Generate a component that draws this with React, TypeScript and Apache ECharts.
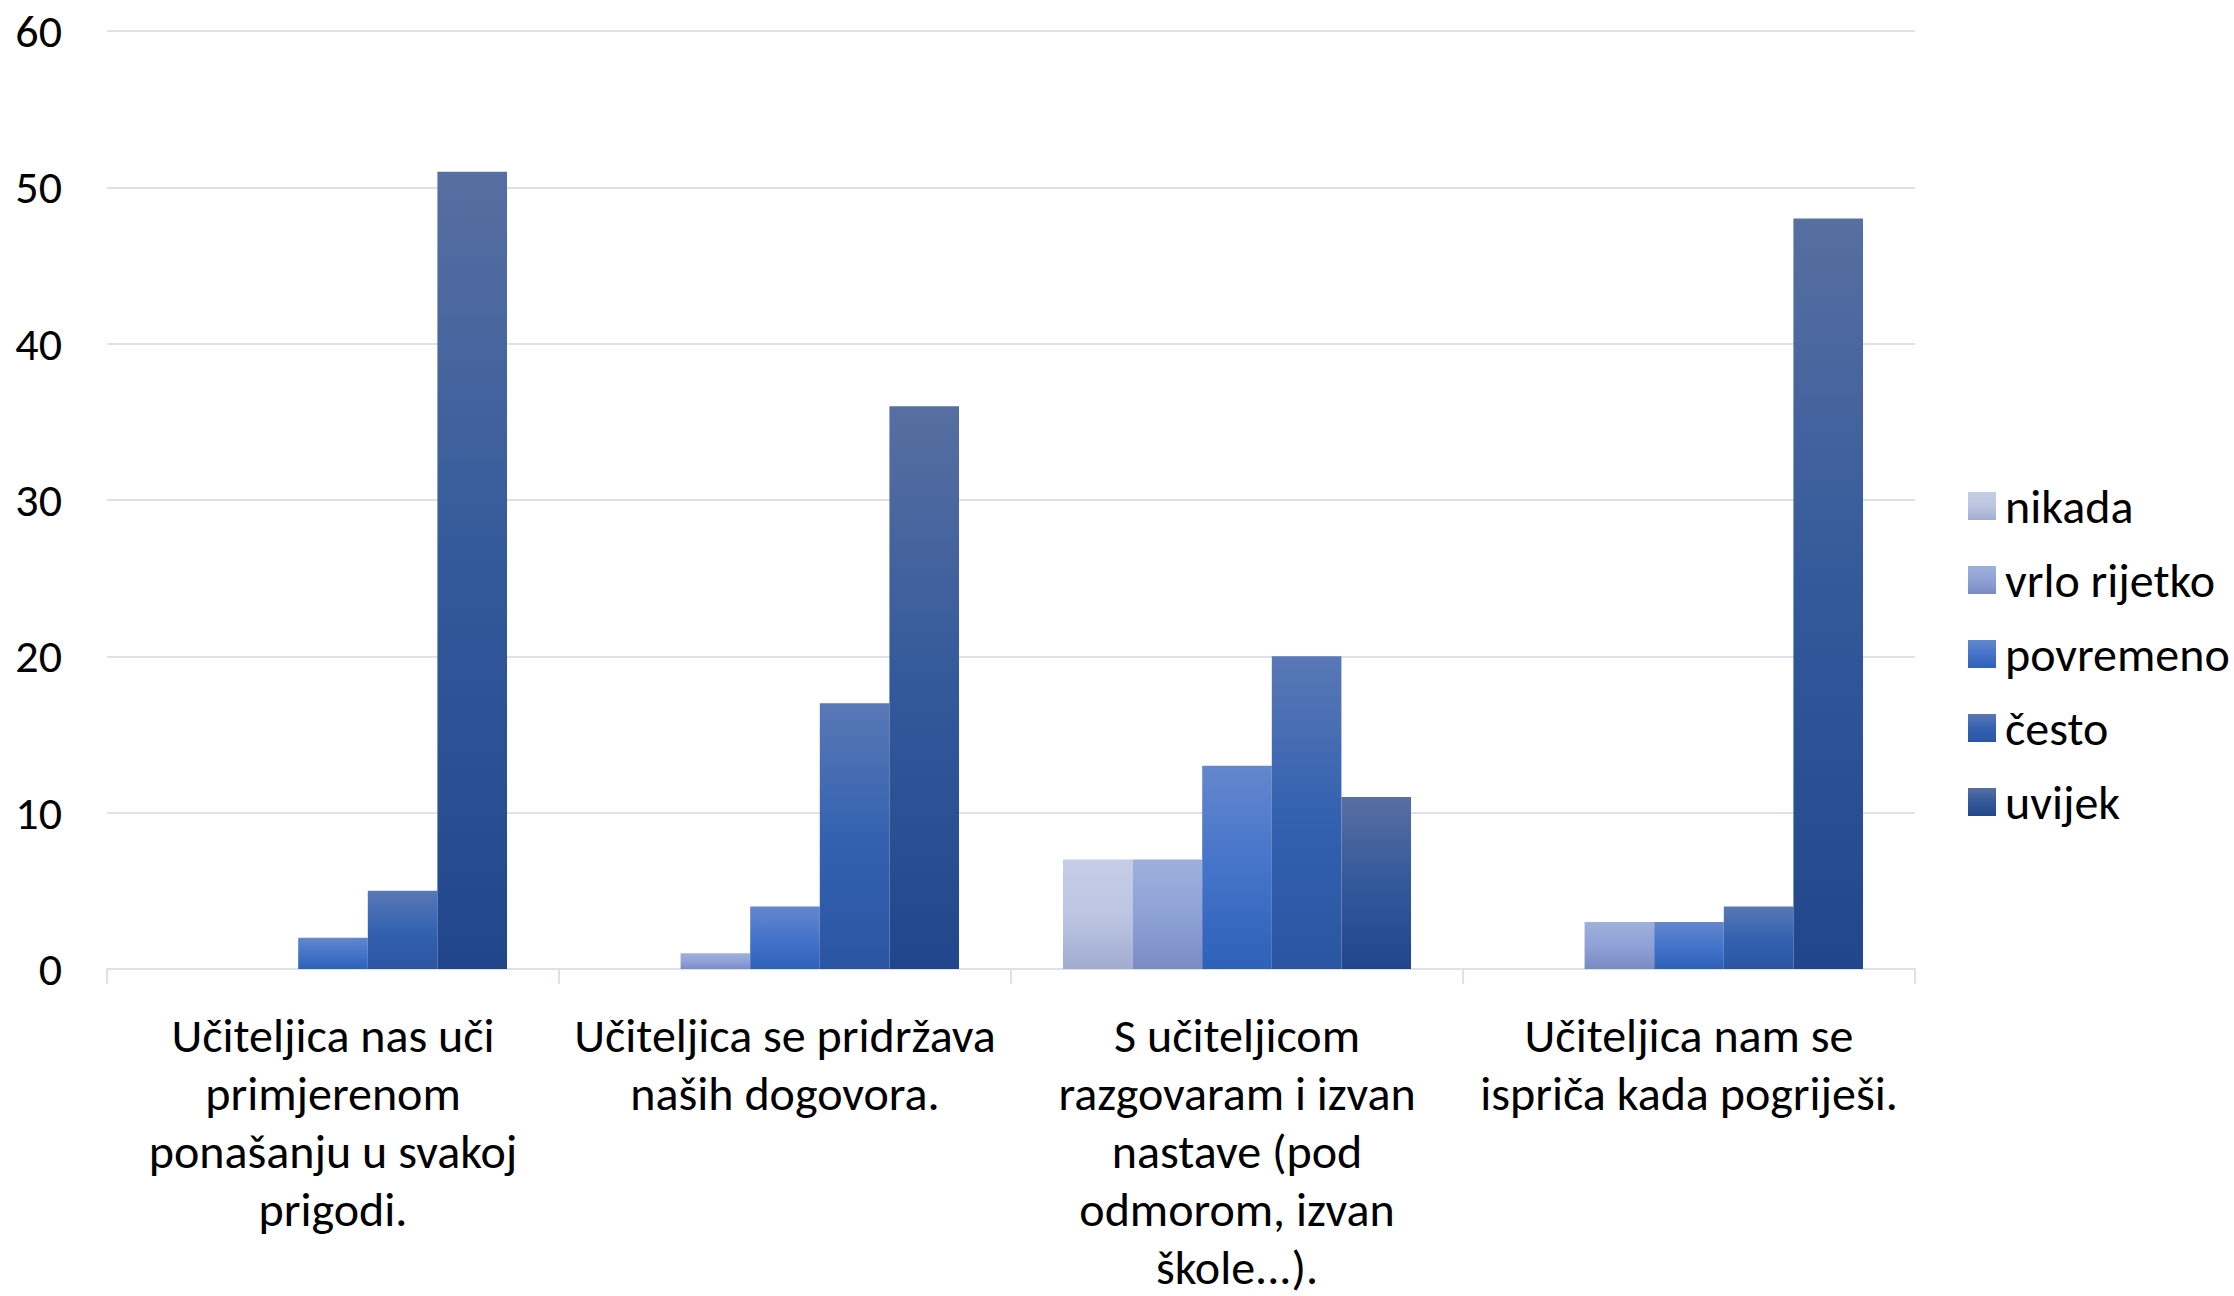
import React, { useEffect, useRef } from "react";
import * as echarts from "echarts";

const categories = [
  "Učiteljica nas uči\nprimjerenom\nponašanju u svakoj\nprigodi.",
  "Učiteljica se pridržava\nnaših dogovora.",
  "S učiteljicom\nrazgovaram i izvan\nnastave (pod\nodmorom, izvan\nškole...).",
  "Učiteljica nam se\nispriča kada pogriješi.",
];
const seriesNames = ["nikada", "vrlo rijetko", "povremeno", "često", "uvijek"];
const nikada = [0, 0, 7, 0];
const vrloRijetko = [0, 1, 7, 3];
const povremeno = [2, 4, 13, 3];
const cesto = [5, 17, 20, 4];
const uvijek = [51, 36, 11, 48];

const FONT = "Calibri, Carlito, Lato, sans-serif";

const grad = (top: string, mid: string, bot: string) =>
  new echarts.graphic.LinearGradient(0, 0, 0, 1, [
    { offset: 0, color: top },
    { offset: 0.5, color: mid },
    { offset: 1, color: bot },
  ]);

export default function App() {
  const ref = useRef<HTMLDivElement>(null);
  useEffect(() => {
    if (!ref.current) return;
    const chart = echarts.init(ref.current, null, { renderer: "svg" });
    const colors = [
      grad("#c5cce6", "#bcc6e3", "#a2acd0"),
      grad("#9eb0da", "#8fa2d7", "#7a8bc4"),
      grad("#6487cd", "#4574ca", "#2e61b9"),
      grad("#5978b6", "#3462b0", "#2a55a3"),
      grad("#576fa1", "#33599b", "#22468b"),
    ];
    const datas = [nikada, vrloRijetko, povremeno, cesto, uvijek];
    chart.setOption({
      animation: false,
      backgroundColor: "#ffffff",
      grid: { left: 107, right: 319, top: 31, bottom: 318, containLabel: false },
      legend: {
        orient: "vertical",
        left: 1963,
        top: 477,
        itemWidth: 28,
        itemHeight: 28,
        itemGap: 26,
        icon: "rect",
        data: seriesNames,
        textStyle: {
          fontFamily: FONT,
          fontSize: 48,
          lineHeight: 48,
          color: "#000",
          padding: [0, 0, 0, 4],
        },
      },
      xAxis: {
        type: "category",
        data: categories,
        axisLine: { lineStyle: { color: "#dde1e9", width: 2 } },
        axisTick: { show: true, length: 15, lineStyle: { color: "#dde1e9", width: 2 } },
        axisLabel: {
          interval: 0,
          margin: 37,
          fontFamily: FONT,
          fontSize: 48,
          lineHeight: 58,
          color: "#000",
          align: "center",
        },
        splitLine: { show: false },
      },
      yAxis: {
        type: "value",
        min: 0,
        max: 60,
        interval: 10,
        axisLine: { show: false },
        axisTick: { show: false },
        axisLabel: {
          margin: 45,
          fontFamily: FONT,
          fontSize: 46,
          color: "#000",
        },
        splitLine: { lineStyle: { color: "#dde1e9", width: 2 } },
      },
      series: seriesNames.map((name, i) => ({
        name,
        type: "bar",
        data: datas[i],
        barGap: "0%",
        barCategoryGap: "23%",
        itemStyle: { color: colors[i] },
      })),
    });
    return () => chart.dispose();
  }, []);
  return (
    <div
      ref={ref}
      style={{ position: "fixed", left: 0, top: 0, width: 2234, height: 1296 }}
    />
  );
}
